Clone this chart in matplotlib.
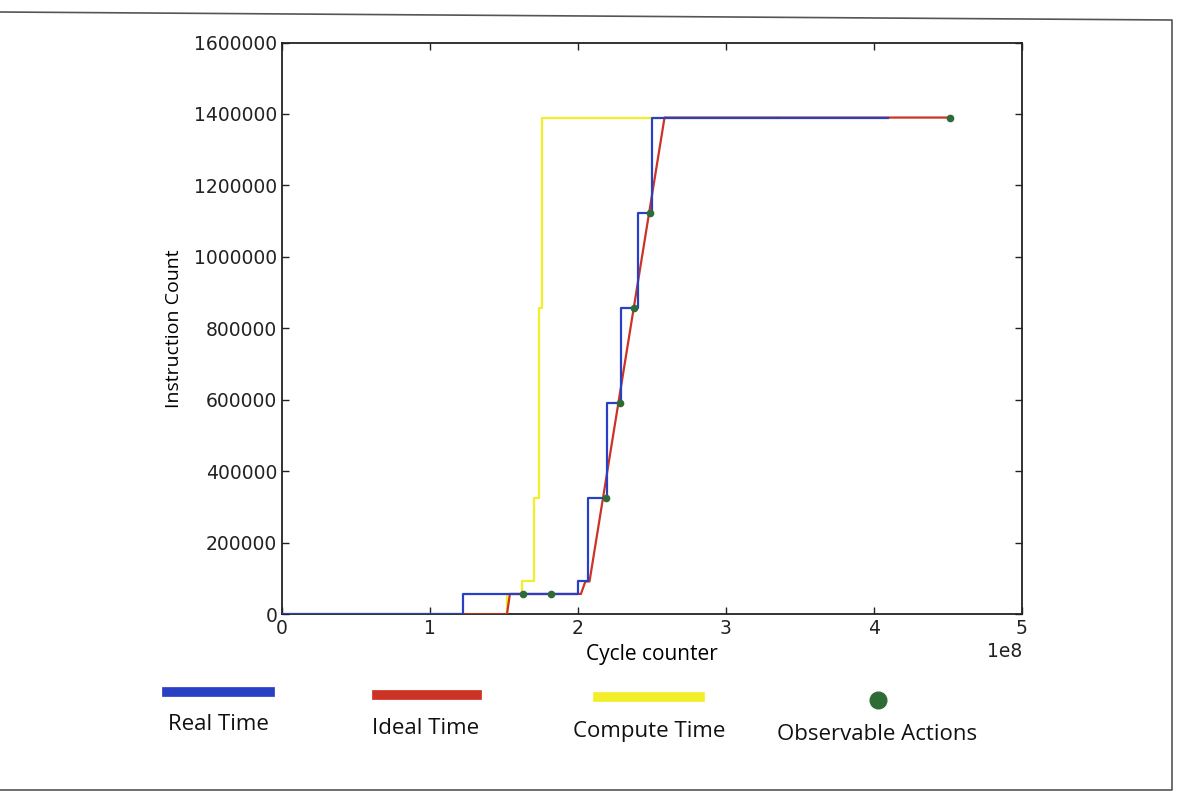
import matplotlib
matplotlib.use("Agg")
import matplotlib.pyplot as plt
from matplotlib.lines import Line2D

# valeurs (cycles, instructions)
real_x = [0, 1.22e8, 2.00e8, 2.065e8, 2.195e8, 2.293e8, 2.408e8, 2.497e8, 4.095e8]
real_y = [0, 57000, 92000, 326000, 592000, 858000, 1124000, 1390000, 1390000]

ideal_x = [0, 1.52e8, 1.54e8, 2.02e8, 2.05e8, 2.078e8, 2.585e8, 4.52e8]
ideal_y = [0, 0, 57000, 57000, 92000, 92000, 1390000, 1390000]

compute_x = [0, 1.52e8, 1.62e8, 1.70e8, 1.735e8, 1.758e8, 3.36e8]
compute_y = [0, 57000, 92000, 326000, 858000, 1390000, 1390000]

action_x = [1.626e8, 1.819e8, 2.19e8, 2.282e8, 2.381e8, 2.486e8, 4.517e8]
action_y = [57000, 57000, 326000, 592000, 858000, 1124000, 1390000]

labels = ["Real Time", "Ideal Time", "Compute Time", "Observable Actions"]
BLUE, RED, YELLOW, GREEN = "#2a40c4", "#cc3324", "#f2ef2a", "#2f6b34"

fig = plt.figure(figsize=(11.8, 8.02), dpi=100)
ax = fig.add_axes([0.239, 0.234, 0.627, 0.713])

ax.plot(compute_x, compute_y, drawstyle="steps-post", color=YELLOW, lw=1.6, zorder=2)
ax.plot(ideal_x, ideal_y, color=RED, lw=1.6, zorder=3)
ax.plot(real_x, real_y, drawstyle="steps-post", color=BLUE, lw=1.6, zorder=4)
ax.plot(action_x, action_y, "o", color=GREEN, ms=4.5, zorder=5)

ax.set_xlim(0, 5e8)
ax.set_ylim(0, 1600000)
ax.set_xticks([0, 1e8, 2e8, 3e8, 4e8, 5e8])
ax.set_yticks(range(0, 1600001, 200000))
ax.ticklabel_format(axis="y", style="plain")
ax.tick_params(direction="in", top=True, right=True, length=5, width=1,
               labelsize=13.5, colors="#222222")
ax.xaxis.get_offset_text().set_fontsize(13.5)
for s in ax.spines.values():
    s.set_linewidth(1.3)
    s.set_color("#222222")

ax.set_xlabel("Cycle counter", fontsize=15, family="Open Sans", labelpad=4)
ax.set_ylabel("Instruction Count", fontsize=14, family="Open Sans", labelpad=8)

# légende dessinée à la main sous le graphique
H = 802.0
W = 1180.0
leg_lines = [(167, 270, 692, BLUE), (377, 477, 695, RED), (598, 700, 697, YELLOW)]
for x1, x2, yy, c in leg_lines:
    fig.add_artist(Line2D([x1 / W, x2 / W], [1 - yy / H, 1 - yy / H], color=c, lw=7))
fig.add_artist(Line2D([878 / W], [1 - 700 / H], marker="o", color=GREEN, ms=12, lw=0))
label_pos = [(218, 725), (426, 728), (649, 731), (877, 735)]
for lab, (lx, ly) in zip(labels, label_pos):
    fig.text(lx / W, 1 - ly / H, lab, ha="center", va="center", fontsize=16,
             family="Open Sans", color="#111111")

# cadre de la page scannée
fig.add_artist(Line2D([0, 1172 / W, 1172 / W, 0],
                      [1 - 12 / H, 1 - 20 / H, 1 - 790 / H, 1 - 790 / H],
                      color="#555555", lw=1.2))

fig.savefig("out.png", dpi=100)
